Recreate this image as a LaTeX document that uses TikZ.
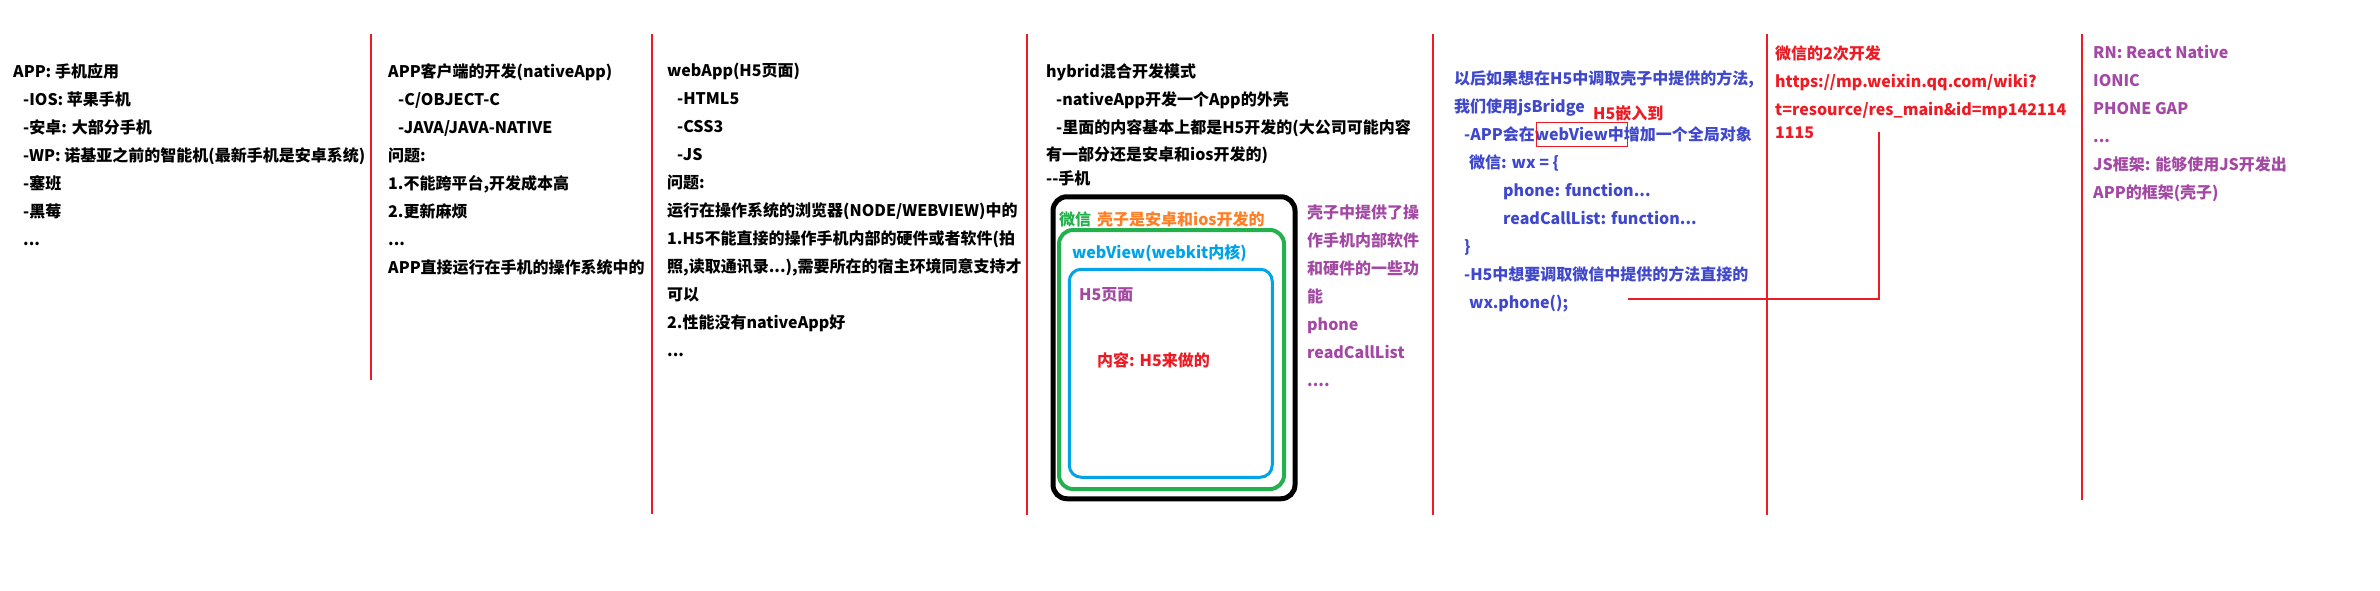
\documentclass[tikz,border=0pt]{standalone}
\usepackage{fontspec}
\setmainfont{Noto Sans CJK SC}
\usetikzlibrary{positioning}
\definecolor{divred}{RGB}{237,28,36}
\definecolor{jsblue}{RGB}{63,72,204}
\definecolor{shellpurple}{RGB}{163,73,164}
\definecolor{wxgreen}{RGB}{34,177,76}
\definecolor{shellorange}{RGB}{255,127,39}
\definecolor{viewblue}{RGB}{0,162,232}
\newcommand{\ind}[1]{\hspace*{#1pt}}

\begin{document}
\begin{tikzpicture}[x=1pt,y=-1pt,
    note/.style={anchor=north west,align=left,inner sep=0pt,
      font=\fontsize{16}{28}\selectfont\bfseries,execute at begin node=\strut},
    divider/.style={draw=divred,line width=1.4pt},
    frame/.style={draw,rectangle,rounded corners=14pt,inner sep=0pt}]
  \useasboundingbox[fill=white] (0,0) rectangle (2380,590);

  % column dividers
  \foreach \x/\b in {371/380,652/514,1027/515,1433/515,1767/515,2082/500}
    \draw[divider] (\x,34) -- (\x,\b);

  \node[note] (apps) at (13,63) {APP: 手机应用\\
    \ind{10}-IOS: 苹果手机\\
    \ind{10}-安卓: 大部分手机\\
    \ind{10}-WP: 诺基亚之前的智能机(最新手机是安卓系统)\\
    \ind{10}-塞班\\
    \ind{10}-黑莓\\
    \ind{10}...};

  \node[note] (native) at (388,63) {APP客户端的开发(nativeApp)\\
    \ind{10}-C/OBJECT-C\\
    \ind{10}-JAVA/JAVA-NATIVE\\
    问题:\\
    1.不能跨平台,开发成本高\\
    2.更新麻烦\\
    ...\\
    APP直接运行在手机的操作系统中的};

  \node[note] (webapp) at (667,63) {webApp(H5页面)\\
    \ind{10}-HTML5\\
    \ind{10}-CSS3\\
    \ind{10}-JS\\
    问题:\\
    运行在操作系统的浏览器(NODE/WEBVIEW)中的\\
    1.H5不能直接的操作手机内部的硬件或者软件(拍\\
    照,读取通讯录...),需要所在的宿主环境同意支持才\\
    可以\\
    2.性能没有nativeApp好\\
    ...};

  \node[note] (hybrid) at (1046,63) {hybrid混合开发模式\\
    \ind{10}-nativeApp开发一个App的外壳\\
    \ind{10}-里面的内容基本上都是H5开发的(大公司可能内容\\[-1pt]
    有一部分还是安卓和ios开发的)\\[-4pt]
    -{}-手机};

  % the phone with its shell, webView and page
  \node[frame,line width=5pt,minimum width=242,minimum height=302] (phone) at (1174,347.75) {};
  \node[frame,draw=wxgreen,line width=4pt,minimum width=225,minimum height=259] (shell) at (1171.5,359.5) {};
  \node[frame,draw=viewblue,line width=3pt,rounded corners=12pt,minimum width=203,minimum height=208] (webview) at (1170.75,373.25) {};
  \node[note,text=wxgreen] (wxname) at (1059,206) {微信};
  \node[note,text=shellorange] (shellnote) at (1097,206) {壳子是安卓和ios开发的};
  \node[note,text=viewblue] (viewname) at (1072,239) {webView(webkit内核)};
  \node[note,text=shellpurple] (pagename) at (1079,281) {H5页面};
  \node[note,text=divred] (pagenote) at (1097,347) {内容: H5来做的};
  \node[note,text=shellpurple] (shellapi) at (1307,205) {壳子中提供了操\\
    作手机内部软件\\
    和硬件的一些功\\
    能\\
    phone\\
    readCallList\\
    ....};

  \node[note,text=jsblue] (bridge) at (1454,70) {以后如果想在H5中调取壳子中提供的方法,\\
    我们使用jsBridge\\
    \ind{10}-APP会在webView中增加一个全局对象\\
    \ind{15}微信: wx = \{\\
    \ind{49}phone: function...\\
    \ind{49}readCallList: function...\\
    \ind{10}\}\\
    \ind{10}-H5中想要调取微信中提供的方法直接的\\
    \ind{15}wx.phone();};
  \node[note,text=divred] (embed) at (1593,100) {H5嵌入到};
  \node[draw=divred,line width=1pt,minimum width=91,minimum height=24,inner sep=0pt] (viewmark) at (1581.5,134) {};

  \node[note,text=divred] (wxdev) at (1775,45) {微信的2次开发\\
    https://mp.weixin.qq.com/wiki?\\
    t=resource/res\_main\&id=mp142114\\[-5pt]
    1115};

  \node[note,text=shellpurple] (frameworks) at (2093,45) {RN: React Native\\
    IONIC\\
    PHONE GAP\\
    ...\\
    JS框架: 能够使用JS开发出\\
    APP的框架(壳子)};

  \coordinate (callend) at (1628,299);
  \coordinate (docend) at (1879,132);
  \draw[divred,line width=1.2pt] (callend) -| (docend);
\end{tikzpicture}
\end{document}
